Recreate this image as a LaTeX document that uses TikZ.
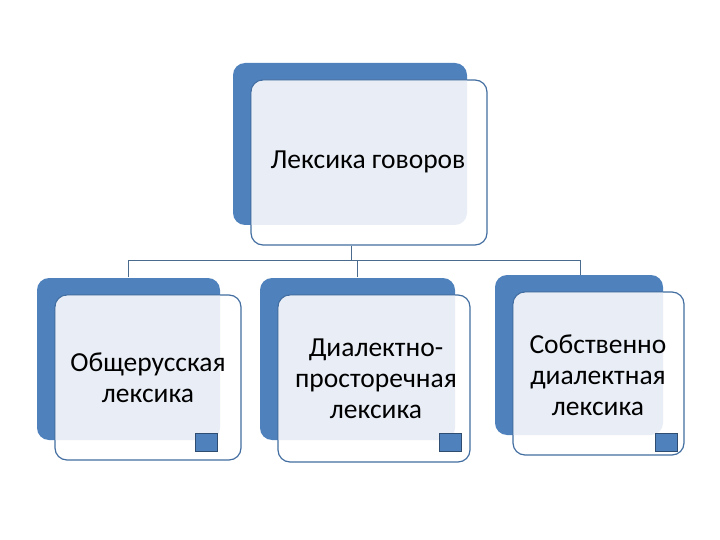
\documentclass[tikz,border=0pt]{standalone}
\usepackage{fontspec}
\setmainfont{Carlito}
\definecolor{bk}{HTML}{4F81BD}
\definecolor{lt}{HTML}{E9EEF6}
\definecolor{ln}{HTML}{4A6A8E}
\tikzset{
  backbox/.style={fill=bk, rounded corners=12pt},
  frontbox/.style={draw=bk!85!black, line width=1.2pt, fill=white, rounded corners=12pt},
  conn/.style={draw=ln, line width=1pt},
  sq/.style={fill=bk, draw=bk!60!black, line width=0.8pt},
  lbl/.style={font=\fontsize{27.5}{31}\selectfont, align=center, text=black}
}
\begin{document}
\begin{tikzpicture}[x=1pt,y=-1pt]
\useasboundingbox (0,0) rectangle (720,540);
\coordinate (j) at (351,260);
\coordinate (jl) at (128,260);
\coordinate (jm) at (357,260);
\coordinate (jr) at (580,260);
\node[inner sep=0] (tb) at (351,245) {};
\node[inner sep=0] (lb) at (128,278) {};
\node[inner sep=0] (mb) at (357,278) {};
\node[inner sep=0] (rb) at (580,276) {};
\draw[conn] (tb) -- (j);
\draw[conn] (lb) -- (jl) -- (jr) -- (rb);
\draw[conn] (jm) -- (mb);
\foreach \ax/\ay/\bx/\by/\cx/\cy/\dx/\dy/\nm in {
  233/63/467/225/251/80/487/245/t,
  37/278/220/440/55/295/241/460/l,
  260/278/455/440/278/295/470/462/m,
  495/275/663/435/513/292/684/455/r}{
  \fill[backbox] (\ax,\ay) rectangle (\bx,\by);
  \draw[frontbox] (\cx,\cy) rectangle (\dx,\dy);
  \begin{scope}
    \clip[rounded corners=12pt] (\ax,\ay) rectangle (\bx,\by);
    \fill[lt, rounded corners=12pt] ([shift={(0.7,0.7)}]\cx,\cy) rectangle ([shift={(-0.7,-0.7)}]\dx,\dy);
  \end{scope}
}
\node[sq, minimum width=22pt, minimum height=18pt] (sl) at (206,442) {};
\node[sq, minimum width=22pt, minimum height=18pt] (sm) at (450,442) {};
\node[sq, minimum width=22pt, minimum height=18pt] (sr) at (666,442) {};
\node[lbl] (t) at (368,162) {Лексика говоров};
\node[lbl] (l) at (148,378) {Общерусская\\лексика};
\node[lbl] (m) at (376,379) {Диалектно-\\просторечная\\лексика};
\node[lbl] (r) at (598,375) {Собственно\\диалектная\\лексика};
\end{tikzpicture}
\end{document}
